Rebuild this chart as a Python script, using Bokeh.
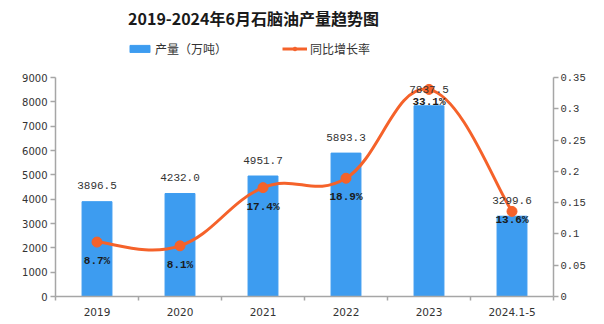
from bokeh.plotting import figure
from bokeh.models import (Range1d, LinearAxis, FixedTicker, Label, Legend, LegendItem,
                          CustomJSTickFormatter)
from bokeh.core.properties import value
from bokeh.embed import file_html
from bokeh.resources import INLINE

categories = ["2019", "2020", "2021", "2022", "2023", "2024.1-5"]
output = [3896.5, 4232.0, 4951.7, 5893.3, 7837.5, 3299.6]
growth = [0.087, 0.081, 0.174, 0.189, 0.331, 0.136]
growth_labels = ["8.7%", "8.1%", "17.4%", "18.9%", "33.1%", "13.6%"]
y_ticks = [0, 1000, 2000, 3000, 4000, 5000, 6000, 7000, 8000, 9000]
y2_ticks = [0, 0.05, 0.1, 0.15, 0.2, 0.25, 0.3, 0.35]
y_max = 9000
y2_max = 0.35

title_text = "2019-2024年6月石脑油产量趋势图"
bar_name = "产量（万吨）"
line_name = "同比增长率"

# styles
BAR_COLOR = "#3d9cf0"
LINE_COLOR = "#f5622a"
AXIS_COLOR = "#a6a6a6"
TEXT_COLOR = "#333333"
pct_offsets = [19, 19, 19, 19, 13, 9]

W, H = 604, 324
BORDER_BOTTOM = 28
AXIS_PIX = 219           # pixel height of the axes' drawn span
frame_h = H - BORDER_BOTTOM
top_factor = frame_h / AXIS_PIX   # frame extends above the axes to hold title & legend

n = len(categories)
xs = [i + 0.5 for i in range(n)]

p = figure(width=W, height=H, x_range=Range1d(0, n), y_range=Range1d(0, y_max * top_factor),
           output_backend="svg", toolbar_location=None,
           min_border_left=55, min_border_right=51, min_border_top=0,
           min_border_bottom=BORDER_BOTTOM)
p.outline_line_color = None
p.xgrid.visible = False
p.ygrid.visible = False
p.background_fill_color = "white"
p.border_fill_color = "white"

# x axis
xa = p.xaxis[0]
xa.ticker = FixedTicker(ticks=xs, minor_ticks=list(range(n + 1)))
xa.formatter = CustomJSTickFormatter(args=dict(cats=categories),
                                     code="return cats[Math.floor(tick)];")
xa.major_tick_line_color = None
xa.major_tick_out = 0
xa.major_tick_in = 0
xa.minor_tick_out = 4
xa.minor_tick_in = 0
xa.minor_tick_line_color = AXIS_COLOR
xa.minor_tick_line_width = 1.5
xa.axis_line_color = AXIS_COLOR
xa.axis_line_width = 1.5
xa.major_label_standoff = 7
xa.major_label_text_font = "DejaVu Sans"
xa.major_label_text_font_size = "10.5px"
xa.major_label_text_color = TEXT_COLOR

# left axis
ya = p.yaxis[0]
ya.ticker = FixedTicker(ticks=y_ticks)
ya.bounds = (0, y_max)
ya.minor_tick_line_color = None
ya.major_tick_out = 5
ya.major_tick_in = 0
ya.major_tick_line_color = AXIS_COLOR
ya.major_tick_line_width = 1.5
ya.axis_line_color = AXIS_COLOR
ya.axis_line_width = 1.5
ya.major_label_standoff = 3
ya.major_label_text_font = "DejaVu Sans"
ya.major_label_text_font_size = "10px"
ya.major_label_text_color = TEXT_COLOR

# right axis
p.extra_y_ranges = {"g": Range1d(0, y2_max * top_factor)}
ra = LinearAxis(y_range_name="g", ticker=FixedTicker(ticks=y2_ticks), bounds=(0, y2_max),
                formatter=CustomJSTickFormatter(code="return String(Math.round(tick*100)/100);"))
ra.minor_tick_line_color = None
ra.major_tick_out = 5
ra.major_tick_in = 0
ra.major_tick_line_color = AXIS_COLOR
ra.major_tick_line_width = 1.5
ra.axis_line_color = AXIS_COLOR
ra.axis_line_width = 1.5
ra.major_label_standoff = 2
ra.major_label_text_font = "Liberation Mono"
ra.major_label_text_font_size = "10.5px"
ra.major_label_text_color = TEXT_COLOR
p.add_layout(ra, "right")

# bars
bars = p.vbar(x=xs, top=output, width=0.36, fill_color=BAR_COLOR, line_color=BAR_COLOR)

# smooth line via bezier segments (control points derived from neighbouring points)
s = 0.2
px = [xs[0]] + xs + [xs[-1]]
py = [growth[0]] + growth + [growth[-1]]
x0, y0, x1, y1, cx0, cy0, cx1, cy1 = [], [], [], [], [], [], [], []
for i in range(n - 1):
    j = i + 1
    x0.append(px[j]); y0.append(py[j])
    x1.append(px[j + 1]); y1.append(py[j + 1])
    cx0.append(px[j] + (px[j + 1] - px[j - 1]) * s)
    cy0.append(py[j] + (py[j + 1] - py[j - 1]) * s)
    cx1.append(px[j + 1] - (px[j + 2] - px[j]) * s)
    cy1.append(py[j + 1] - (py[j + 2] - py[j]) * s)
line = p.bezier(x0=x0, y0=y0, x1=x1, y1=y1, cx0=cx0, cy0=cy0, cx1=cx1, cy1=cy1,
                line_color=LINE_COLOR, line_width=3, y_range_name="g")
pts = p.scatter(x=xs, y=growth, size=10, fill_color=LINE_COLOR, line_color=LINE_COLOR,
                y_range_name="g")

# value labels
p.text(x=xs, y=output, text=[f"{v:.1f}" for v in output], y_offset=-16,
       text_align="center", text_baseline="middle", text_font=value("Liberation Mono"),
       text_font_size="11px", text_color=TEXT_COLOR)
p.text(x=xs, y=growth, text=growth_labels, y_offset=pct_offsets, y_range_name="g",
       text_align="center", text_baseline="middle", text_font=value("Liberation Mono"),
       text_font_size="11px", text_font_style="bold", text_color="#1a1a1a")

# title
p.add_layout(Label(x=198, y=frame_h - 17, x_units="screen", y_units="screen", text=title_text,
                   text_align="center", text_baseline="middle",
                   text_font="Noto Sans CJK SC", text_font_style="bold",
                   text_font_size="16px", text_color="#1a1a1a"))

# legend
legend = Legend(items=[LegendItem(label=bar_name, renderers=[bars]),
                       LegendItem(label=line_name, renderers=[line, pts])],
                orientation="horizontal", location=(72, frame_h - 57),
                glyph_width=25, glyph_height=9, label_height=14, label_standoff=3,
                spacing=55, padding=0, margin=0, border_line_color=None,
                background_fill_alpha=0,
                label_text_font="Noto Sans CJK SC", label_text_font_size="12px",
                label_text_color=TEXT_COLOR)
p.add_layout(legend, "center")

open("out.html", "w").write(file_html(p, INLINE))
